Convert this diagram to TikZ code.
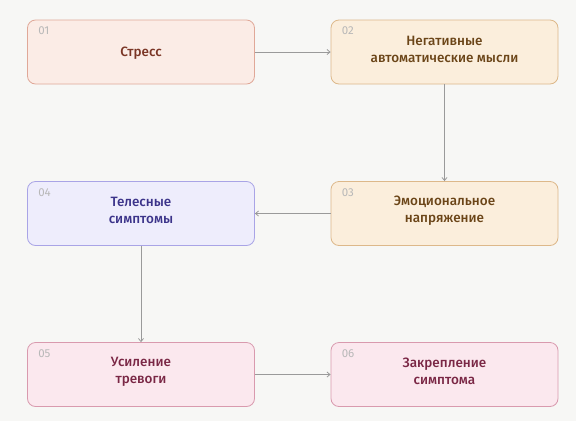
\documentclass[tikz,border=0pt]{standalone}
\usepackage{fontspec}
\setmainfont{Fira Sans}
\newfontfamily\medfont{Fira Sans}[UprightFont=* Medium]
\usetikzlibrary{arrows.meta}
\definecolor{bg}{HTML}{F7F7F5}
\definecolor{fA}{HTML}{FBECE6}\definecolor{dA}{HTML}{E0A898}\definecolor{tA}{HTML}{7A3525}
\definecolor{fB}{HTML}{FBEEDC}\definecolor{dB}{HTML}{DDB88A}\definecolor{tB}{HTML}{6B4518}
\definecolor{fC}{HTML}{EEEDFC}\definecolor{dC}{HTML}{A9A4E6}\definecolor{tC}{HTML}{3C348A}
\definecolor{fD}{HTML}{FBE8EE}\definecolor{dD}{HTML}{D99AAE}\definecolor{tD}{HTML}{7A2745}
\definecolor{numc}{HTML}{B8B8B8}
\definecolor{arr}{HTML}{9A9A9A}
\tikzset{
  x=1pt, y=-1pt,
  box/.style={draw, rounded corners=8pt, line width=0.8pt, minimum width=227pt, minimum height=64pt, inner sep=0pt},
  boxA/.style={box, fill=fA, draw=dA},
  boxB/.style={box, fill=fB, draw=dB},
  boxC/.style={box, fill=fC, draw=dC},
  boxD/.style={box, fill=fD, draw=dD},
  lbl/.style={font=\medfont\fontsize{13.5}{17}\selectfont, align=center, inner sep=0pt},
  num/.style={font=\fontsize{11.5}{13}\selectfont, text=numc, inner sep=0pt, anchor=west},
  conn/.style={draw=arr, line width=0.8pt, -{Straight Barb[length=3pt,width=5pt]}}
}
\begin{document}
\begin{tikzpicture}
\useasboundingbox[fill=bg] (0,0) rectangle (576,421);
% boxes
\node[boxA] (b1) at (141,52) {};
\node[boxB] (b2) at (444.5,52) {};
\node[boxB] (b3) at (444.5,213.5) {};
\node[boxC] (b4) at (141,213.5) {};
\node[boxD] (b5) at (141,374.5) {};
\node[boxD] (b6) at (444.5,374.5) {};
% numbers
\node[num] (n1) at ([xshift=11pt,yshift=-11.5pt]b1.north west) {01};
\node[num] (n2) at ([xshift=11pt,yshift=-11.5pt]b2.north west) {02};
\node[num] (n3) at ([xshift=11pt,yshift=-11.5pt]b3.north west) {03};
\node[num] (n4) at ([xshift=11pt,yshift=-11.5pt]b4.north west) {04};
\node[num] (n5) at ([xshift=11pt,yshift=-11.5pt]b5.north west) {05};
\node[num] (n6) at ([xshift=11pt,yshift=-11.5pt]b6.north west) {06};
% labels
\node[lbl, text=tA] (t1) at ([yshift=-1pt]b1.center) {Стресс};
\node[lbl, text=tB] (t2) at ([yshift=3pt]b2.center) {Негативные\\автоматические мысли};
\node[lbl, text=tB] (t3) at ([yshift=3pt]b3.center) {Эмоциональное\\напряжение};
\node[lbl, text=tC] (t4) at ([yshift=3pt]b4.center) {Телесные\\симптомы};
\node[lbl, text=tD] (t5) at ([yshift=3pt]b5.center) {Усиление\\тревоги};
\node[lbl, text=tD] (t6) at ([yshift=3pt]b6.center) {Закрепление\\симптома};
% connectors
\draw[conn] (b1.east) -- (b2.west);
\draw[conn] (b2.south) -- (b3.north);
\draw[conn] (b3.west) -- (b4.east);
\draw[conn] (b4.south) -- (b5.north);
\draw[conn] (b5.east) -- (b6.west);
\end{tikzpicture}
\end{document}
